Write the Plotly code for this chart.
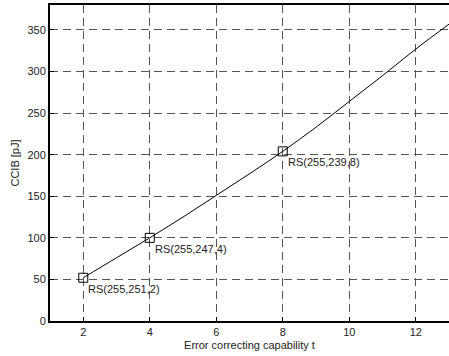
import plotly.graph_objects as go

t_values = [2, 3, 4, 5, 6, 7, 8, 9, 10, 11, 12, 13]
ccib_values = [52, 76, 100, 125, 151, 177, 204, 233, 264, 295, 327, 357]

marker_t = [2, 4, 8]
marker_ccib = [52, 100, 204]
marker_labels = ["RS(255,251,2)", "RS(255,247,4)", "RS(255,239,8)"]

x_ticks = [2, 4, 6, 8, 10, 12]
y_ticks = [0, 50, 100, 150, 200, 250, 300, 350]

font = dict(family="Liberation Sans, Arial, sans-serif", size=11, color="#222")

fig = go.Figure()
fig.add_trace(go.Scatter(x=t_values, y=ccib_values, mode="lines",
                         line=dict(color="black", width=1, shape="spline"),
                         showlegend=False, hoverinfo="skip"))
fig.add_trace(go.Scatter(x=marker_t, y=marker_ccib, mode="markers",
                         marker=dict(symbol="square-open", size=9, color="black",
                                     line=dict(width=1, color="black")),
                         showlegend=False))

for tx, cy, lab in zip(marker_t, marker_ccib, marker_labels):
    fig.add_annotation(x=tx, y=cy, text=lab, showarrow=False,
                       xanchor="left", yanchor="middle", xshift=3, yshift=-11,
                       font=font)

grid = dict(showgrid=True, gridcolor="#555", griddash="8px,5px", gridwidth=1)

fig.update_layout(
    width=449, height=356,
    margin=dict(l=50, r=0, t=5, b=35),
    paper_bgcolor="white", plot_bgcolor="white",
    font=font,
    xaxis=dict(range=[1, 13], tickvals=x_ticks, ticks="inside", ticklen=4,
               tickcolor="black", showline=True, linecolor="black", linewidth=2,
               mirror=True, zeroline=False,
               title=dict(text="Error correcting capability t", font=font, standoff=4),
               **grid),
    yaxis=dict(range=[0, 380], tickvals=y_ticks, ticks="inside", ticklen=4,
               tickcolor="black", showline=True, linecolor="black", linewidth=2,
               zeroline=False,
               title=dict(text="CCIB [pJ]", font=font, standoff=6),
               **grid),
)

fig.write_html("out.html", config={"displayModeBar": False},
               post_script="document.body.style.margin='0';document.body.style.overflow='hidden';")
